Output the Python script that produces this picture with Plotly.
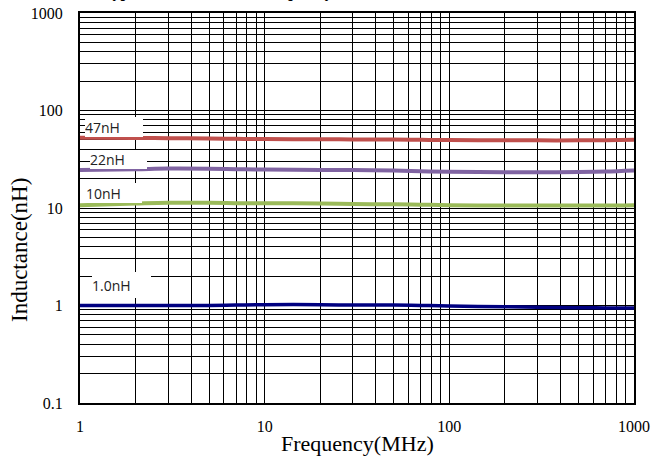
import plotly.graph_objects as go

# ---- data ----
freq_mhz = [1, 2, 3, 5, 7, 10, 20, 30, 50, 70, 100, 200, 300, 500, 700, 1000]
ind_47nh = [52.6, 52.3, 52.0, 51.5, 51.2, 51.0, 50.7, 50.5, 50.3, 50.0, 49.8, 49.5, 49.4, 49.4, 49.6, 50.1]
ind_22nh = [24.5, 25.0, 25.4, 25.3, 25.0, 24.8, 24.6, 24.5, 24.2, 23.8, 23.5, 23.3, 23.3, 23.4, 23.7, 24.3]
ind_10nh = [10.7, 11.1, 11.3, 11.3, 11.2, 11.2, 11.1, 11.0, 10.9, 10.8, 10.7, 10.6, 10.6, 10.6, 10.6, 10.7]
ind_1nh = [1.00, 1.00, 1.00, 1.00, 1.01, 1.02, 1.02, 1.01, 1.01, 1.00, 0.99, 0.97, 0.96, 0.95, 0.945, 0.94]

series_names = ["47nH", "22nH", "10nH", "1.0nH"]
series_colors = ["#C0504D", "#8064A2", "#9BBB59", "#000080"]

x_major = [1, 10, 100, 1000]
x_major_labels = ["1", "10", "100", "1000"]
y_major = [0.1, 1, 10, 100, 1000]
y_major_labels = ["0.1", "1", "10", "100", "1000"]

title_text = "Typical Inductance vs. Frequency"
x_title = "Frequency(MHz)"
y_title = "Inductance(nH)"


def grid_vals(majors):
    vals = []
    for i, m in enumerate(majors):
        vals.append(m)
        if i < len(majors) - 1:
            for k in range(2, 10):
                vals.append(m * k)
    return vals


def grid_text(majors, labels):
    texts = []
    for i, m in enumerate(majors):
        texts.append(labels[i])
        if i < len(majors) - 1:
            texts.extend([""] * 8)
    return texts


fig = go.Figure()
series_vals = [ind_47nh, ind_22nh, ind_10nh, ind_1nh]
widths = [4, 4, 4, 3.5]
for name, vals, col, w in zip(series_names, series_vals, series_colors, widths):
    fig.add_trace(go.Scatter(x=freq_mhz, y=vals, mode="lines", name=name,
                             line=dict(color=col, width=w, shape="spline")))

W, H = 651, 458
L, R, T, B = 80, 17, 13, 55
pw, ph = W - L - R, H - T - B


def px(x):
    return (x - L) / pw


def py(y):
    return (H - B - y) / ph


serif = "Liberation Serif, Times New Roman, serif"
sans = "Open Sans, Noto Sans, sans-serif"

fig.update_xaxes(type="log", range=[0, 3], automargin=False,
                 tickvals=grid_vals(x_major), ticktext=grid_text(x_major, x_major_labels),
                 showgrid=True, gridcolor="#000000", gridwidth=1,
                 showline=True, linecolor="#000000", linewidth=2, mirror=True,
                 ticks="", zeroline=False, ticklabelstandoff=8,
                 tickfont=dict(family=serif, size=16, color="#000"))
fig.update_yaxes(type="log", range=[-1, 3], automargin=False,
                 tickvals=grid_vals(y_major), ticktext=grid_text(y_major, y_major_labels),
                 showgrid=True, gridcolor="#000000", gridwidth=1,
                 showline=True, linecolor="#000000", linewidth=2, mirror=True,
                 ticks="", zeroline=False, ticklabelstandoff=12,
                 tickfont=dict(family=serif, size=16, color="#000"))

# series label boxes (white background, left aligned)
boxes = [
    (85, 117, 58, 20),
    (90, 150, 57, 19),
    (86, 183, 56, 20),
    (92, 272, 59, 26),
]
annotations = []
for name, (bx, by, bw, bh) in zip(series_names, boxes):
    annotations.append(dict(text=name, xref="paper", yref="paper", x=px(bx), y=py(by),
                            xanchor="left", yanchor="top", width=bw, height=bh,
                            align="left", valign="middle", showarrow=False,
                            bgcolor="#FFFFFF", borderpad=0, borderwidth=0,
                            font=dict(family=sans, size=14, color="#222")))

annotations.append(dict(text=x_title, xref="paper", yref="paper", x=px(357), y=py(443),
                        xanchor="center", yanchor="middle", showarrow=False,
                        font=dict(family=serif, size=22, color="#000")))
annotations.append(dict(text=y_title, xref="paper", yref="paper", x=px(19), y=py(250),
                        xanchor="center", yanchor="middle", showarrow=False, textangle=-90,
                        font=dict(family=serif, size=23, color="#000")))
annotations.append(dict(text="<b>" + title_text + "</b>", xref="paper", yref="paper",
                        x=px(218), y=py(3), xanchor="center", yanchor="bottom",
                        showarrow=False,
                        font=dict(family=serif, size=16, color="#000")))

fig.update_layout(width=W, height=H, autosize=False, margin=dict(l=L, r=R, t=T, b=B, pad=0),
                  paper_bgcolor="white", plot_bgcolor="white", showlegend=False,
                  annotations=annotations)

fig.write_html("out.html", config={"displayModeBar": False, "responsive": False},
               post_script="document.body.style.margin='0';document.body.style.overflow='hidden';")
